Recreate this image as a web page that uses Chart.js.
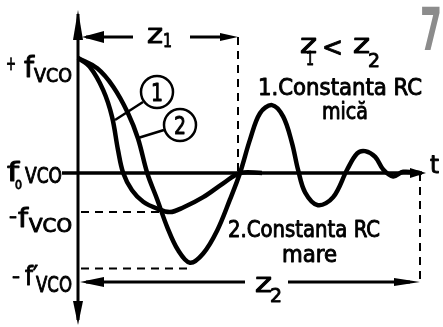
<!DOCTYPE html>
<html>
<head>
<meta charset="utf-8">
<script src="https://cdn.jsdelivr.net/npm/chart.js@4/dist/chart.umd.min.js"></script>
<style>
  html, body { margin: 0; padding: 0; background: #fff; }
  #wrap { width: 443px; height: 327px; }
</style>
</head>
<body>
<div id="wrap"><canvas id="vco" width="443" height="327"></canvas></div>
<script>
// time axis: 0 = start of the step, z1 / z2 = settling times
const curve1Time = [0, 0.30, 0.63, 0.85, 1.0, 1.13, 1.35, 1.63, 1.98, 2.3, 2.63, 3.13, 3.63, 4.05, 4.6];
const curve1Freq = [1, 0.92, 0.72, 0.49, 0.20, 0, -0.15, -0.25, -0.31, -0.34, -0.30, -0.21, -0.09, 0, 0];

const curve2Time = [0, 0.48, 0.88, 1.25, 1.5, 1.73, 1.98, 2.23, 2.5, 2.8, 3.13, 3.48, 3.8, 4.05, 4.3, 4.55, 4.85, 5.13, 5.35, 5.5, 5.68, 6.0, 6.38, 6.73, 6.98, 7.18, 7.43, 7.63, 7.88, 8.13, 8.55];
const curve2Freq = [1, 0.91, 0.75, 0.52, 0.30, 0, -0.23, -0.47, -0.67, -0.78, -0.70, -0.50, -0.23, 0, 0.29, 0.52, 0.59, 0.49, 0.26, 0.03, -0.17, -0.28, -0.21, 0.03, 0.17, 0.19, 0.14, 0.03, -0.03, 0.01, 0];

// frequency levels marked on the vertical axis
const levelValues = [1, 0, -0.34, -0.83];
const levelNames = ["+fVCO", "f0VCO", "-fVCO", "-f'VCO"];
const dashEnds = [null, null, 2.1, 2.8];

const z1 = 4.0;
const z2 = 8.55;

const FONT = '"DejaVu Sans Condensed", "Liberation Sans Narrow", "DejaVu Sans", sans-serif';

const toPoints = (xs, ys) => xs.map((x, i) => ({ x: x, y: ys[i] }));

function fitText(ctx, text, left, base, size, width, weight, thick) {
  ctx.save();
  ctx.font = (weight || "normal") + " " + size + "px " + FONT;
  ctx.textAlign = "left";
  ctx.textBaseline = "alphabetic";
  const w = ctx.measureText(text).width;
  ctx.translate(left, base);
  if (width) ctx.scale(width / w, 1);
  ctx.fillText(text, 0, 0);
  const t = thick === undefined ? 0.9 : thick;
  if (t > 0) {
    ctx.lineWidth = t;
    ctx.lineJoin = "round";
    ctx.strokeStyle = ctx.fillStyle;
    ctx.strokeText(text, 0, 0);
  }
  ctx.restore();
}

function arrowHead(ctx, tx, ty, dir, len, half) {
  ctx.beginPath();
  ctx.moveTo(tx, ty);
  if (dir === "l") { ctx.lineTo(tx + len, ty - half); ctx.lineTo(tx + len, ty + half); }
  if (dir === "r") { ctx.lineTo(tx - len, ty - half); ctx.lineTo(tx - len, ty + half); }
  if (dir === "u") { ctx.lineTo(tx - half, ty + len); ctx.lineTo(tx + half, ty + len); }
  if (dir === "d") { ctx.lineTo(tx - half, ty - len); ctx.lineTo(tx + half, ty - len); }
  ctx.closePath();
  ctx.fill();
}

function line(ctx, x1, y1, x2, y2, w, dash) {
  ctx.save();
  ctx.lineWidth = w;
  ctx.setLineDash(dash || []);
  ctx.beginPath();
  ctx.moveTo(x1, y1);
  ctx.lineTo(x2, y2);
  ctx.stroke();
  ctx.restore();
}

const axesPlugin = {
  id: "vcoAxes",
  beforeDatasetsDraw(chart) {
    const ctx = chart.ctx;
    const X = (v) => chart.scales.x.getPixelForValue(v);
    const Y = (v) => chart.scales.y.getPixelForValue(v);
    const x0 = X(0), y0 = Y(0);

    ctx.save();
    ctx.fillStyle = "#fff";
    ctx.fillRect(0, 0, chart.width, chart.height);
    ctx.strokeStyle = "#000";
    ctx.fillStyle = "#000";

    // vertical axis with arrows both ends
    line(ctx, x0, 14, x0, 320, 3);
    arrowHead(ctx, x0, 10, "u", 30, 5);
    arrowHead(ctx, x0, 325, "d", 24, 5);

    // time axis
    line(ctx, X(-0.4), y0, X(z2) + 2, y0, 3.5);
    arrowHead(ctx, X(z2) + 6, y0, "r", 16, 5);

    // dashed level guides
    levelValues.forEach((v, i) => {
      if (dashEnds[i] === null) return;
      line(ctx, x0 + 3, Y(v), X(dashEnds[i]), Y(v), 2, [8, 6]);
    });

    // z1 marker
    const yz1 = 37;
    line(ctx, X(z1), yz1, X(z1), y0, 2, [8, 6]);
    line(ctx, x0 + 8, yz1, 133, yz1, 3);
    arrowHead(ctx, x0 + 4, yz1, "l", 22, 6);
    line(ctx, 190, yz1, X(z1) - 10, yz1, 3);
    arrowHead(ctx, X(z1), yz1, "r", 18, 4);

    // z2 marker
    const yz2 = 282;
    line(ctx, X(z2), y0, X(z2), yz2, 2, [8, 6]);
    line(ctx, x0 + 8, yz2, 245, yz2, 3);
    arrowHead(ctx, x0 + 2, yz2, "l", 24, 5);
    line(ctx, 288, yz2, X(z2) - 10, yz2, 3);
    arrowHead(ctx, X(z2), yz2, "r", 26, 4);
    ctx.restore();
  },
  afterDatasetsDraw(chart) {
    const ctx = chart.ctx;
    ctx.save();
    ctx.fillStyle = "#000";
    ctx.strokeStyle = "#000";

    // level labels on the left
    fitText(ctx, "+", 6, 70, 20, 10);
    fitText(ctx, "f", 24, 77, 28, 10);
    fitText(ctx, "VCO", 34, 82, 20, 38);

    fitText(ctx, "f", 7, 181, 26, 12);
    fitText(ctx, "0", 15, 189, 13, 7);
    fitText(ctx, "VCO", 25, 183, 21, 37);

    fitText(ctx, "-", 9, 223, 20, 8);
    fitText(ctx, "f", 18, 227, 26, 10);
    fitText(ctx, "VCO", 29, 232, 19, 43);

    fitText(ctx, "-", 12, 283, 20, 8);
    fitText(ctx, "f′", 25, 285, 26, 13);
    fitText(ctx, "VCO", 36, 292, 22, 36);

    // time label
    fitText(ctx, "t", 430, 173, 24, 9);

    // z labels
    fitText(ctx, "z", 147, 43, 26, 16);
    fitText(ctx, "1", 163, 47, 20, 9);
    fitText(ctx, "z", 300, 53, 26, 17);
    fitText(ctx, "1", 306, 65, 19, 8);
    fitText(ctx, "<", 322, 56, 26, 21);
    fitText(ctx, "z", 353, 53, 26, 17);
    fitText(ctx, "2", 368, 67, 20, 12);
    fitText(ctx, "z", 255, 292, 26, 17);
    fitText(ctx, "2", 270, 302, 20, 12);

    // legend texts
    fitText(ctx, "1.Constanta RC", 258, 95, 23, 164);
    fitText(ctx, "mică", 322, 119, 23, 46);
    fitText(ctx, "2.Constanta RC", 228, 237, 23, 152);
    fitText(ctx, "mare", 282, 262, 23, 55);

    // curve tags
    const tags = [
      { n: "1", cx: 157, cy: 92, lx: 115, ly: 120, sx: 143, sy: 102 },
      { n: "2", cx: 180, cy: 125, lx: 138, ly: 138, sx: 164, sy: 130 },
    ];
    tags.forEach((t) => {
      ctx.lineWidth = 2.5;
      ctx.beginPath();
      ctx.arc(t.cx, t.cy, 16, 0, Math.PI * 2);
      ctx.stroke();
      line(ctx, t.lx, t.ly, t.sx, t.sy, 2.5);
      fitText(ctx, t.n, t.cx - 6, t.cy + 9, 24, 12);
    });

    // page number
    ctx.fillStyle = "#8c8c8c";
    fitText(ctx, "7", 420, 50, 58, 22, "bold", 0);
    ctx.restore();
  },
};

const ctx = document.getElementById("vco").getContext("2d");
new Chart(ctx, {
  type: "line",
  data: {
    datasets: [
      {
        label: "1. Constanta RC mică",
        data: toPoints(curve1Time, curve1Freq),
        borderColor: "#000",
        borderWidth: 4.5,
        tension: 0.35,
        pointRadius: 0,
        fill: false,
      },
      {
        label: "2. Constanta RC mare",
        data: toPoints(curve2Time, curve2Freq),
        borderColor: "#000",
        borderWidth: 4.5,
        tension: 0.35,
        pointRadius: 0,
        fill: false,
      },
    ],
  },
  options: {
    responsive: false,
    animation: false,
    layout: { padding: 0 },
    plugins: { legend: { display: false }, tooltip: { enabled: false } },
    scales: {
      x: { type: "linear", display: false, min: -1.95, max: 9.125 },
      y: { display: false, min: -1.339, max: 1.504 },
    },
  },
  plugins: [axesPlugin],
});
</script>
</body>
</html>
